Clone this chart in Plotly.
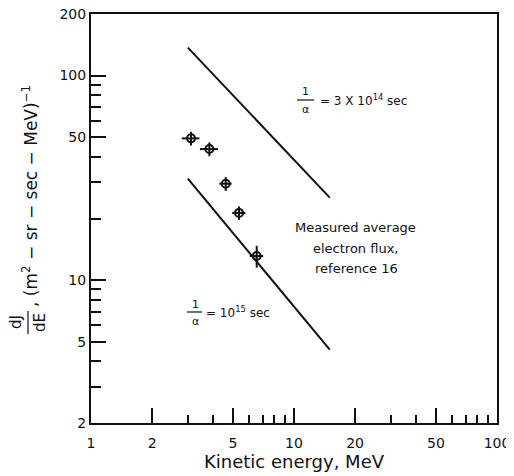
import plotly.graph_objects as go

# Measured average electron flux (reference 16)
energy = [3.11, 3.83, 4.61, 5.36, 6.55]
flux = [49.3, 43.7, 29.6, 21.3, 13.1]
energy_err = [0.31, 0.39, 0.32, 0.40, 0.50]
flux_err = [3.8, 3.4, 2.3, 1.6, 1.6]

# Model lines
line1_e = [3.0, 15.0]
line1_j = [137.0, 25.3]
line2_e = [3.0, 15.0]
line2_j = [31.3, 4.57]

x_labels = [1, 2, 5, 10, 20, 50, 100]
x_minor = [3, 4, 6, 7, 8, 9, 30, 40, 60, 70, 80, 90]
y_labels = [2, 5, 10, 50, 100, 200]
y_minor = [3, 4, 6, 7, 8, 9, 20, 30, 40, 60, 70, 80, 90]

# page is rendered with an 8px body margin
OFF = 8
W, H = 514 - OFF, 476 - OFF
L, R, T, B = 91, 497, 14, 423   # plot-area edges in page pixels


def px(x):
    return (x - L) / (R - L)


def py(y):
    return (B - y) / (B - T)


FONT = "DejaVu Sans"
INK = "#111111"

fig = go.Figure()
fig.add_trace(go.Scatter(x=line1_e, y=line1_j, mode="lines",
                         line=dict(color=INK, width=2), showlegend=False))
fig.add_trace(go.Scatter(x=line2_e, y=line2_j, mode="lines",
                         line=dict(color=INK, width=2), showlegend=False))
fig.add_trace(go.Scatter(
    x=energy, y=flux, mode="markers",
    marker=dict(symbol="circle-open", size=8, color=INK, line=dict(width=2, color=INK)),
    error_x=dict(type="data", array=energy_err, color=INK, thickness=2, width=0),
    error_y=dict(type="data", array=flux_err, color=INK, thickness=2, width=0),
    showlegend=False))

axis_common = dict(
    showline=True, linecolor=INK, linewidth=2, mirror=True,
    showgrid=False, zeroline=False, ticks="inside", tickcolor=INK,
    tickwidth=2, ticklen=15, ticklabeloverflow="allow",
    tickfont=dict(family=FONT, size=14, color=INK),
)

fig.update_xaxes(type="log", range=[0, 2], tickmode="array",
                 tickvals=x_labels, ticktext=[str(v) for v in x_labels],
                 ticklabelstandoff=6,
                 minor=dict(tickmode="array", tickvals=x_minor, ticks="inside",
                            ticklen=8, tickwidth=2, tickcolor=INK),
                 title=dict(text="Kinetic energy, MeV",
                            font=dict(family=FONT, size=18, color=INK), standoff=4),
                 **axis_common)
fig.update_yaxes(type="log", range=[0.30103, 2.30103], tickmode="array",
                 tickvals=y_labels, ticktext=[str(v) for v in y_labels],
                 minor=dict(tickmode="array", tickvals=y_minor, ticks="inside",
                            ticklen=10, tickwidth=2, tickcolor=INK),
                 **axis_common)

ann = []
shapes = []


def text(x, y, s, size=12, xanchor="center", angle=0):
    ann.append(dict(x=px(x), y=py(y), xref="paper", yref="paper", text=s,
                    showarrow=False, xanchor=xanchor, yanchor="middle",
                    textangle=angle, font=dict(family=FONT, size=size, color=INK)))


def hbar(x0, x1, y):
    shapes.append(dict(type="line", xref="paper", yref="paper",
                       x0=px(x0), x1=px(x1), y0=py(y), y1=py(y),
                       line=dict(color=INK, width=1.2)))


def vbar(x, y0, y1):
    shapes.append(dict(type="line", xref="paper", yref="paper",
                       x0=px(x), x1=px(x), y0=py(y0), y1=py(y1),
                       line=dict(color=INK, width=1.2)))


# 1/alpha = 3 x 10^14 sec
text(305, 91, "1", size=11)
hbar(297, 314, 100)
text(305, 109, "α", size=11)
text(318, 100, "= 3 X 10<sup>14</sup> sec", size=12, xanchor="left")

# 1/alpha = 10^15 sec
text(195, 304, "1", size=11)
hbar(187, 202, 312)
text(195, 321, "α", size=11)
text(204, 312, "= 10<sup>15</sup> sec", size=12, xanchor="left")

# Measured average electron flux
text(355, 227, "Measured average", size=13)
text(356, 248, "electron flux,", size=13)
text(356, 268, "reference 16", size=13)

# y-axis title
text(16, 322, "dJ", size=15, angle=-90)
vbar(28, 311, 334)
text(40, 322, "dE", size=15, angle=-90)
text(30, 196, ", (m<sup>2</sup> − sr − sec − MeV)<sup>−1</sup>", size=17, angle=-90)

fig.update_layout(
    width=W, height=H,
    margin=dict(l=L - OFF, r=514 - R, t=T - OFF, b=476 - B, autoexpand=False),
    paper_bgcolor="white", plot_bgcolor="white",
    annotations=ann, shapes=shapes,
    font=dict(family=FONT, color=INK),
)

fig.write_html("out.html")
